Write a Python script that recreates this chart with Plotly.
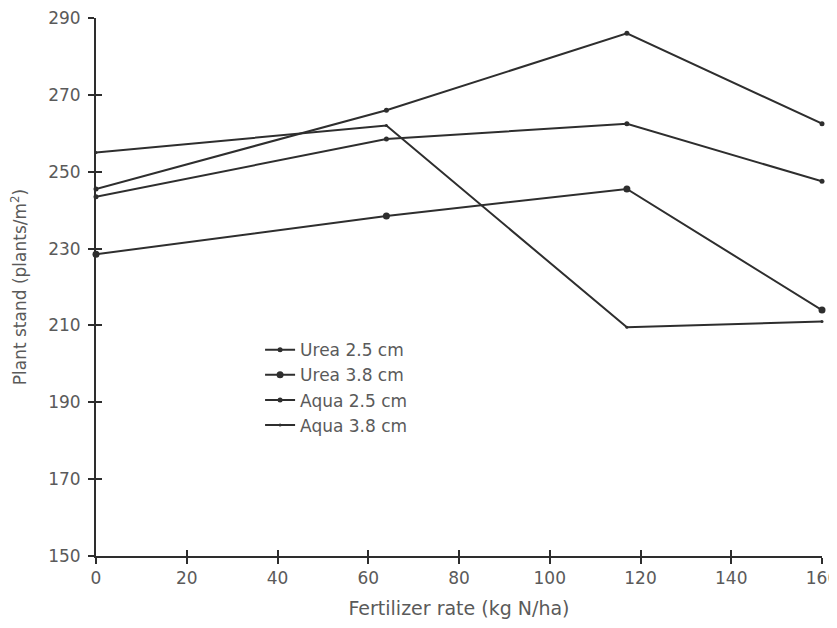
import plotly.graph_objects as go

fert_rate = [0, 64, 117, 160]
urea_25 = [245.5, 266, 286, 262.5]
urea_38 = [228.5, 238.5, 245.5, 214]
aqua_25 = [243.5, 258.5, 262.5, 247.5]
aqua_38 = [255, 262, 209.5, 211]
x_ticks = [0, 20, 40, 60, 80, 100, 120, 140, 160]
y_ticks = [150, 170, 190, 210, 230, 250, 270, 290]

series = [
    ("Urea 2.5 cm", urea_25, 5),
    ("Urea 3.8 cm", urea_38, 7),
    ("Aqua 2.5 cm", aqua_25, 5),
    ("Aqua 3.8 cm", aqua_38, 3),
]

line_col = "#2e2e2e"
font_col = "#5a5a5a"
fam = "DejaVu Sans, Arial, sans-serif"

fig = go.Figure()
for i, (name, vals, msize) in enumerate(series):
    fig.add_trace(go.Scatter(
        x=fert_rate, y=vals, name=name, mode="lines+markers",
        legendgroup=f"g{i}",
        line=dict(color=line_col, width=2),
        marker=dict(color=line_col, size=msize, symbol="circle"),
        cliponaxis=False,
    ))
# invisible trace so the overlay axes (inner half of crossing ticks) are drawn
fig.add_trace(go.Scatter(x=fert_rate, y=urea_25, xaxis="x2", yaxis="y2",
                         mode="lines", opacity=0, showlegend=False, hoverinfo="skip"))

fig.update_layout(
    width=837, height=628,
    margin=dict(l=88, r=23, t=10, b=80),
    paper_bgcolor="white", plot_bgcolor="white",
    font=dict(family=fam, size=17, color=font_col),
    showlegend=True,
    legend=dict(x=0.226, y=0.416, xanchor="left", yanchor="top",
                bgcolor="rgba(0,0,0,0)", font=dict(size=17, color=font_col),
                itemwidth=30, tracegroupgap=0),
    xaxis=dict(
        range=[0, 160], tickvals=x_ticks, automargin=False,
        showline=True, linecolor=line_col, linewidth=2,
        ticks="outside", ticklen=6, tickcolor=line_col, tickwidth=2,
        ticklabeloverflow="allow",
        showgrid=False, zeroline=False,
        title=dict(text="Fertilizer rate (kg N/ha)", font=dict(size=19, color=font_col), standoff=14),
    ),
    yaxis=dict(
        range=[150, 290], tickvals=y_ticks, automargin=False,
        showline=True, linecolor=line_col, linewidth=2,
        ticks="outside", ticklen=6, tickcolor=line_col, tickwidth=2,
        ticklabelstandoff=4, ticklabeloverflow="allow",
        showgrid=False, zeroline=False,
        title=dict(text="Plant stand (plants/m<sup>2</sup>)", font=dict(size=17, color=font_col), standoff=17),
    ),
    xaxis2=dict(range=[0, 160], tickvals=x_ticks, overlaying="x", side="bottom", automargin=False,
                ticks="inside", ticklen=6, tickcolor=line_col, tickwidth=2,
                showticklabels=False, showline=False, showgrid=False, zeroline=False),
    yaxis2=dict(range=[150, 290], tickvals=y_ticks, overlaying="y", side="left", automargin=False,
                ticks="inside", ticklen=6, tickcolor=line_col, tickwidth=2,
                showticklabels=False, showline=False, showgrid=False, zeroline=False),
)
fig.write_html("out.html")
